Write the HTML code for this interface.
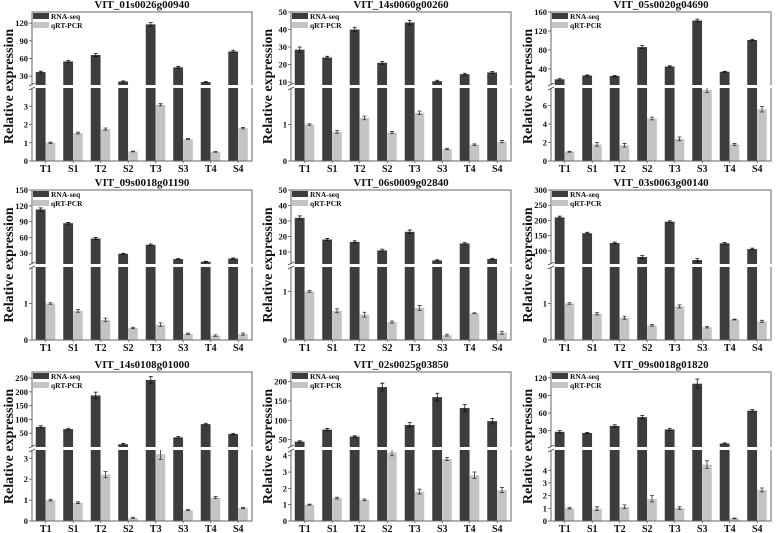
<!DOCTYPE html>
<html><head><meta charset="utf-8">
<style>
html,body{margin:0;padding:0;background:#fff;}
svg{display:block;font-family:"Liberation Serif",serif;}
</style></head>
<body>
<svg id="chart" width="779" height="533" viewBox="0 0 779 533"></svg>
<script>
const categories = ["T1","S1","T2","S2","T3","S3","T4","S4"];
const titles = ["VIT_01s0026g00940","VIT_14s0060g00260","VIT_05s0020g04690","VIT_09s0018g01190","VIT_06s0009g02840","VIT_03s0063g00140","VIT_14s0108g01000","VIT_02s0025g03850","VIT_09s0018g01820"];
const rnaSeq = [
 [37,55,66,21,118,45,20,72],
 [28.5,24,40,21,44,10.5,14.5,15.5],
 [18,26,25,86,45,142,34,101],
 [113,87,58,29,46,19,14,20],
 [32,18,16.5,11,23,4.5,15.5,5.5],
 [210,158,126,80,196,70,125,106],
 [73,65,187,10,243,35,83,47],
 [45,76,58,186,88,160,132,98],
 [28,26,38,53,32,110,8,64]
];
const rnaErr = [
 [1.5,2,2.5,1,3,1.5,1,2],
 [1.5,0.7,1.3,0.8,1.3,0.5,0.5,0.6],
 [1.5,1,1,3,1.5,3,1,1.5],
 [3,1.5,2,1,1.5,0.7,0.7,1],
 [1.3,0.7,0.7,0.8,1.2,0.4,0.5,0.4],
 [4,3,3,5,3,5,3,3],
 [4,3,12,3,12,3,3,2],
 [2,3,2,10,6,10,9,7],
 [2,1,2,3,2,8,1,2]
];
const qpcr = [
 [1,1.53,1.75,0.52,3.08,1.2,0.5,1.8],
 [1,0.8,1.18,0.78,1.32,0.33,0.45,0.53],
 [1,1.8,1.7,4.6,2.4,7.7,1.8,5.6],
 [1,0.8,0.55,0.33,0.42,0.17,0.12,0.16],
 [1,0.6,0.52,0.37,0.66,0.1,0.55,0.15],
 [1,0.72,0.61,0.4,0.92,0.35,0.56,0.51],
 [1,0.88,2.22,0.15,3.2,0.52,1.12,0.62],
 [1,1.4,1.3,4.2,1.8,3.8,2.8,1.9],
 [1,0.97,1.12,1.75,1.02,4.45,0.2,2.45]
];
const qpcrErr = [
 [0.03,0.05,0.06,0.02,0.06,0.03,0.02,0.04],
 [0.02,0.04,0.05,0.03,0.05,0.02,0.02,0.03],
 [0.05,0.2,0.2,0.15,0.2,0.3,0.1,0.3],
 [0.02,0.04,0.05,0.02,0.05,0.02,0.02,0.03],
 [0.02,0.04,0.05,0.02,0.05,0.02,0.01,0.03],
 [0.02,0.03,0.04,0.02,0.04,0.02,0.01,0.03],
 [0.04,0.04,0.15,0.03,0.25,0.03,0.05,0.03],
 [0.03,0.05,0.05,0.2,0.15,0.1,0.2,0.15],
 [0.05,0.15,0.15,0.25,0.1,0.3,0.03,0.15]
];
const upperTicks = [[30,60,90,120],[10,20,30,40,50],[40,80,120,160],[30,60,90,120,150],[10,20,30,40,50],[100,150,200,250,300],[50,100,150,200,250],[50,100,150,200],[30,60,90,120]];
const lowerTicks = [[0,1,2,3],[0,1],[0,2,4,6],[0,1],[0,1],[0,1],[0,1,2,3],[0,1,2,3,4],[0,1,2,3,4]];
const upperDomain = [[15,139],[8.3,50],[6,160],[9.6,150],[2.2,50],[57,300],[0,272],[31,225],[2,130]];
const lowerDomain = [[0,4.0],[0,2],[0,7.9],[0,2],[0,1.5],[0,2],[0,3.4],[0,4.35],[0,5.6]];

const NS="http://www.w3.org/2000/svg";
const svg=document.getElementById('chart');
function mk(tag,attrs,parent){const e=document.createElementNS(NS,tag);for(const k in attrs)e.setAttribute(k,attrs[k]);(parent||svg).appendChild(e);return e;}
const colX=[0,259,519];
const rowG=[{oy:0,top:12,bot:161,brk:85},{oy:176,top:14,bot:164,brk:88},{oy:353,top:19,bot:168,brk:94}];
const DARK="#3d3d3d",LIGHT="#c4c4c4",GAP=3;

for(let p=0;p<9;p++){
  const r=rowG[Math.floor(p/3)], ox=colX[p%3];
  const L=ox+32,R=ox+252,T=r.oy+r.top,B=r.oy+r.bot,bk=r.oy+r.brk,bk2=bk+GAP;
  const g=mk('g',{});
  
  
  const yU=v=>bk-(v-upperDomain[p][0])/(upperDomain[p][1]-upperDomain[p][0])*(bk-T);
  const yL=v=>B-(v-lowerDomain[p][0])/(lowerDomain[p][1]-lowerDomain[p][0])*(B-bk2);
  const yAny=v=>v>lowerDomain[p][1]?yU(v):yL(v);
  const gw=(R-L)/categories.length;
  // title
  const t=mk('text',{x:(L+R)/2,y:T-4,'text-anchor':'middle','font-size':11,'font-weight':'bold',fill:'#111'},g);
  t.textContent=titles[p];
  
  
  // y title
  const yt=mk('text',{x:0,y:0,transform:`translate(${ox+13},${(T+B)/2}) rotate(-90)`,'text-anchor':'middle','font-size':14,'font-weight':'bold',fill:'#111'},g);
  yt.textContent='Relative expression';
  
  
  // bars
  categories.forEach((c,i)=>{
    const cx=L+(i+0.5)*gw;
    const v=rnaSeq[p][i];
    const y=yAny(v);
    const b=mk('rect',{x:cx-10,y:y,width:9.8,height:B-y,fill:DARK},g);
    
    
    const e1=yAny(v+rnaErr[p][i]), e0=yAny(v-rnaErr[p][i]);
    mk('path',{d:`M${cx-5} ${e1}V${e0}M${cx-7} ${e1}H${cx-3}M${cx-7} ${e0}H${cx-3}`,stroke:'#111','stroke-width':0.8,fill:'none'},g);
    const q=qpcr[p][i], yq=yL(q);
    const b2=mk('rect',{x:cx,y:yq,width:9.5,height:B-yq,fill:LIGHT},g);
    
    
    const q1=yL(q+qpcrErr[p][i]),q0=yL(q-qpcrErr[p][i]);
    mk('path',{d:`M${cx+4.75} ${q1}V${q0}M${cx+2.75} ${q1}H${cx+6.75}M${cx+2.75} ${q0}H${cx+6.75}`,stroke:'#333','stroke-width':0.8,fill:'none'},g);
    const xl=mk('text',{x:cx,y:B+11,'text-anchor':'middle','font-size':10,'font-weight':'bold',fill:'#111'},g);
    xl.textContent=c;
    
    
    mk('line',{x1:cx,x2:cx,y1:B,y2:B+2,stroke:'#555','stroke-width':0.8},g);
  });
  // break gap
  mk('rect',{x:L-2,y:bk,width:R-L+4,height:GAP,fill:'#fff'},g);
  // frame
  mk('path',{d:`M${L} ${bk}V${T}H${R}V${bk}M${L} ${bk2}V${B}H${R}V${bk2}`,stroke:'#666','stroke-width':1,fill:'none'},g);
  mk('path',{d:`M${L-3} ${bk+1}L${L+3} ${bk-2}M${L-3} ${bk2+2}L${L+3} ${bk2-1}`,stroke:'#444','stroke-width':0.8},g);
  // ticks
  upperTicks[p].forEach(v=>{const y=yU(v);
    mk('line',{x1:L-3,x2:L,y1:y,y2:y,stroke:'#555','stroke-width':0.8},g);
    const tl=mk('text',{x:L-4,y:y+3,'text-anchor':'end','font-size':8.5,'font-weight':'bold',fill:'#111'},g);
    tl.textContent=v;
    
    });
  lowerTicks[p].forEach(v=>{const y=yL(v);
    mk('line',{x1:L-3,x2:L,y1:y,y2:y,stroke:'#555','stroke-width':0.8},g);
    const tl=mk('text',{x:L-4,y:y+3,'text-anchor':'end','font-size':8.5,'font-weight':'bold',fill:'#111'},g);
    tl.textContent=v;
    
    });
  // legend
  const lg=mk('g',{},g);
  
  
  mk('rect',{x:L+1,y:T+1,width:16,height:6,fill:DARK},lg);
  const l1=mk('text',{x:L+19,y:T+7,'font-size':7.5,'font-weight':'bold',fill:'#111'},lg);
  l1.textContent='RNA-seq';
  
  
  mk('rect',{x:L+1,y:T+10,width:16,height:6,fill:LIGHT},lg);
  const l2=mk('text',{x:L+19,y:T+16,'font-size':7.5,'font-weight':'bold',fill:'#111'},lg);
  l2.textContent='qRT-PCR';
  
  
}
</script>
</body></html>
